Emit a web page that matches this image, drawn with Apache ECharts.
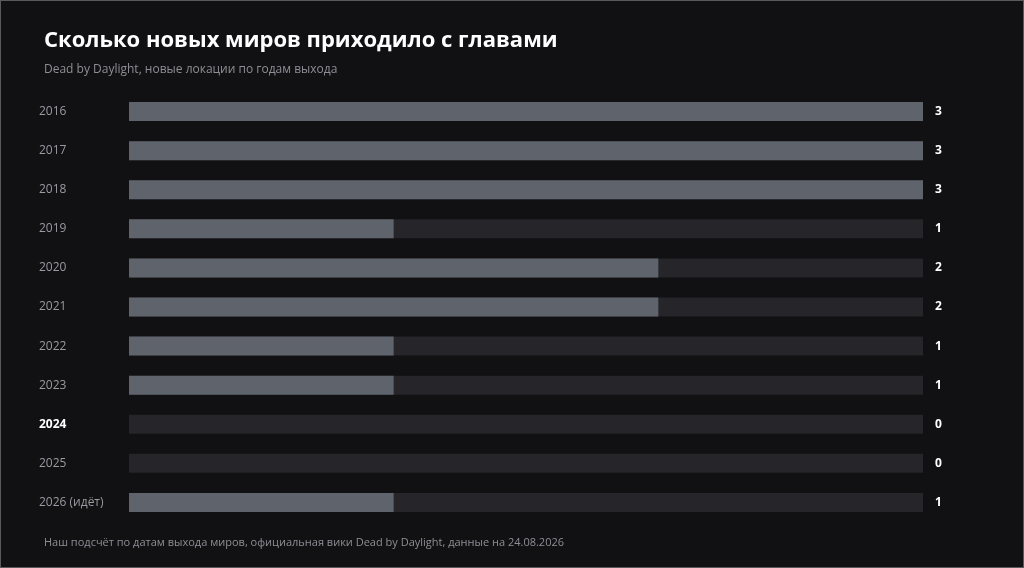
<!DOCTYPE html>
<html>
<head>
<meta charset="utf-8">
<script src="https://cdn.jsdelivr.net/npm/echarts@6/dist/echarts.min.js"></script>
<style>
html,body{margin:0;padding:0;background:#111113;}
#main{width:1022px;height:566px;border:1px solid #5a5a5e;}
</style>
</head>
<body>
<div id="main"></div>
<script>
var years = ['2016', '2017', '2018', '2019', '2020', '2021', '2022', '2023', '2024', '2025', '2026 (идёт)'];
var worlds = [3, 3, 3, 1, 2, 2, 1, 1, 0, 0, 1];
var maxVal = 3;
var track = years.map(function () { return maxVal; });

var myChart = echarts.init(document.getElementById('main'));
var font = '"Open Sans", "Noto Sans", sans-serif';
var option = {
    backgroundColor: '#111113',
    animation: false,
    textStyle: { fontFamily: font },
    title: [{
        text: 'Сколько новых миров приходило с главами',
        subtext: 'Dead by Daylight, новые локации по годам выхода',
        left: 38, top: 24,
        textStyle: { color: '#ffffff', fontSize: 22, fontWeight: 'bold', fontFamily: font },
        subtextStyle: { color: '#8e8e96', fontSize: 12, fontFamily: font },
        itemGap: 12
    }, {
        text: 'Наш подсчёт по датам выхода миров, официальная вики Dead by Daylight, данные на 24.08.2026',
        left: 38, bottom: 14,
        textStyle: { color: '#8e8e96', fontSize: 11, fontWeight: 'normal', fontFamily: font }
    }],
    grid: { left: 128, right: 100, top: 91, bottom: 45 },
    xAxis: { type: 'value', min: 0, max: maxVal, show: false },
    yAxis: {
        type: 'category', data: years, inverse: true,
        axisLine: { show: false }, axisTick: { show: false },
        axisLabel: {
            align: 'left', margin: 90, color: '#9a9aa2', fontSize: 12,
            formatter: function (v) { return v === '2024' ? '{b|' + v + '}' : v; },
            rich: { b: { color: '#ffffff', fontWeight: 'bold', fontSize: 12 } }
        }
    },
    series: [{
        type: 'bar', data: track, barWidth: 19, silent: true,
        itemStyle: { color: '#25252a' }
    }, {
        type: 'bar', data: worlds, barWidth: 19, barGap: '-100%',
        itemStyle: { color: '#5f636b' },
        label: {
            show: true, position: [0, 0],
            formatter: function (p) { return ''; }
        }
    }, {
        type: 'bar', data: track, barWidth: 19, barGap: '-100%', silent: true,
        itemStyle: { color: 'transparent' },
        label: {
            show: true, position: 'right', distance: 12,
            color: '#ffffff', fontWeight: 'bold', fontSize: 12,
            formatter: function (p) { return worlds[p.dataIndex]; }
        }
    }]
};
myChart.setOption(option);
window.onresize = myChart.resize;
</script>
</body>
</html>
